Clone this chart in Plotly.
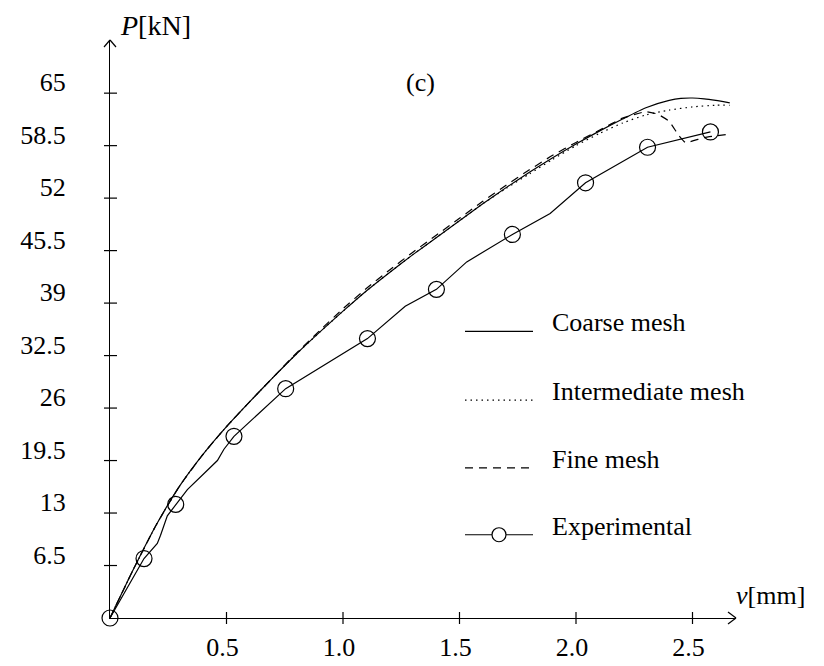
import plotly.graph_objects as go

# ---------------- data ----------------
coarse_v = [0, 0.10, 0.20, 0.30, 0.40, 0.50, 0.60, 0.70, 0.80, 0.90, 1.00, 1.10, 1.20, 1.30,
            1.40, 1.50, 1.60, 1.70, 1.80, 1.90, 2.00, 2.10, 2.20, 2.30, 2.40, 2.45, 2.50, 2.55,
            2.60, 2.66]
coarse_P = [0, 6.0, 11.6, 16.4, 20.3, 23.7, 26.8, 29.8, 32.7, 35.4, 38.0, 40.5, 42.8, 45.0,
            47.1, 49.2, 51.3, 53.3, 55.2, 57.0, 58.7, 60.3, 61.8, 63.2, 64.1, 64.35, 64.4, 64.3,
            64.1, 63.8]

inter_v = [0, 0.10, 0.20, 0.30, 0.40, 0.50, 0.60, 0.70, 0.80, 0.90, 1.00, 1.10, 1.20, 1.30,
           1.40, 1.50, 1.60, 1.70, 1.80, 1.90, 2.00, 2.10, 2.20, 2.30, 2.40, 2.50, 2.60, 2.66]
inter_P = [0, 6.0, 11.6, 16.4, 20.3, 23.7, 26.8, 29.8, 32.7, 35.4, 38.0, 40.5, 42.8, 45.0,
           47.1, 49.2, 51.3, 53.2, 55.0, 56.8, 58.5, 60.0, 61.3, 62.3, 62.9, 63.3, 63.5, 63.5]

fine_v = [0, 0.10, 0.20, 0.30, 0.40, 0.50, 0.60, 0.70, 0.80, 0.90, 1.00, 1.10, 1.20, 1.30,
          1.40, 1.50, 1.60, 1.70, 1.80, 1.90, 2.00, 2.10, 2.20, 2.30, 2.35, 2.40, 2.44, 2.47,
          2.55, 2.655]
fine_P = [0, 6.0, 11.6, 16.4, 20.3, 23.7, 26.8, 29.8, 32.8, 35.6, 38.3, 40.8, 43.1, 45.3,
          47.4, 49.5, 51.6, 53.6, 55.5, 57.3, 58.9, 60.4, 61.9, 62.7, 62.4, 61.5, 59.8, 58.9,
          59.5, 59.9]

exp_line_v = [0, 0.146, 0.203, 0.217, 0.246, 0.282, 0.332, 0.418, 0.461, 0.489, 0.532, 0.754,
              1.105, 1.267, 1.401, 1.531, 1.727, 1.889, 2.041, 2.307, 2.577]
exp_line_P = [0, 7.36, 9.24, 10.25, 12.66, 14.07, 15.9, 18.3, 19.5, 20.9, 22.5, 28.4,
              34.6, 38.6, 40.7, 44.1, 47.5, 50.1, 53.9, 58.3, 60.2]

exp_pts_v = [0, 0.146, 0.282, 0.532, 0.754, 1.105, 1.401, 1.727, 2.041, 2.307, 2.577]
exp_pts_P = [0, 7.36, 14.07, 22.5, 28.4, 34.6, 40.7, 47.5, 53.9, 58.3, 60.2]

x_ticks = [0.5, 1.0, 1.5, 2.0, 2.5]
x_tick_text = ["0.5", "1.0", "1.5", "2.0", "2.5"]
y_ticks = [6.5, 13, 19.5, 26, 32.5, 39, 45.5, 52, 58.5, 65]
y_tick_text = ["6.5", "13", "19.5", "26", "32.5", "39", "45.5", "52", "58.5", "65"]

legend_names = ["Coarse mesh", "Intermediate mesh", "Fine mesh", "Experimental"]

# ---------------- layout geometry ----------------
W, H = 824, 666
L, R, T, B = 102, 96, 32, 37
PW, PH = W - L - R, H - T - B
X_PER_UNIT = 233.0
Y_PER_UNIT = 8.34
FONT = "Liberation Serif, Times New Roman, serif"
FS = 26
LW = 1.2


def px(x):
    return (x - L) / PW


def py(y):
    return (H - B - y) / PH


fig = go.Figure()
fig.add_trace(go.Scatter(x=coarse_v, y=coarse_P, mode="lines", name=legend_names[0],
                         line=dict(color="black", width=LW, shape="spline", smoothing=0.6),
                         showlegend=False))
fig.add_trace(go.Scatter(x=inter_v, y=inter_P, mode="lines", name=legend_names[1],
                         line=dict(color="black", width=LW, dash="1.5px,4px", shape="spline",
                                   smoothing=0.6), showlegend=False))
fig.add_trace(go.Scatter(x=fine_v, y=fine_P, mode="lines", name=legend_names[2],
                         line=dict(color="black", width=LW, dash="8px,6px", shape="spline",
                                   smoothing=0.5), showlegend=False))
fig.add_trace(go.Scatter(x=exp_line_v, y=exp_line_P, mode="lines", name=legend_names[3],
                         line=dict(color="black", width=LW), showlegend=False, cliponaxis=False))
fig.add_trace(go.Scatter(x=exp_pts_v, y=exp_pts_P, mode="markers", name=legend_names[3],
                         marker=dict(symbol="circle-open", size=16, color="black",
                                     line=dict(width=LW, color="black")),
                         showlegend=False, cliponaxis=False))

shapes = []
# cross ticks
for v in x_ticks:
    shapes.append(dict(type="line", xref="x", x0=v, x1=v, yref="paper", ysizemode="pixel",
                       yanchor=0, y0=-6, y1=6, line=dict(color="black", width=LW)))
for p in y_ticks:
    shapes.append(dict(type="line", yref="y", y0=p, y1=p, xref="paper", xsizemode="pixel",
                       xanchor=0, x0=-6, x1=7, line=dict(color="black", width=LW)))
# arrow heads
for s in (1, -1):
    shapes.append(dict(type="line", xref="paper", xsizemode="pixel", xanchor=1, x0=-8, x1=0,
                       yref="paper", ysizemode="pixel", yanchor=0, y0=6 * s, y1=0,
                       line=dict(color="black", width=LW)))
    shapes.append(dict(type="line", xref="paper", xsizemode="pixel", xanchor=0, x0=6 * s, x1=0,
                       yref="paper", ysizemode="pixel", yanchor=1, y0=-7, y1=0,
                       line=dict(color="black", width=LW)))

# legend (manual)
leg_text_y = [324, 395, 465, 534]
leg_dash = ["solid", "1.5px,4px", "8px,6px", "solid"]
annotations = []
for i, name in enumerate(legend_names):
    ly = leg_text_y[i] + 9
    shapes.append(dict(type="line", xref="paper", yref="paper", x0=px(457), x1=px(525),
                       y0=py(ly), y1=py(ly), line=dict(color="black", width=LW, dash=leg_dash[i])))
    annotations.append(dict(text=name, xref="paper", yref="paper", x=px(542), y=py(leg_text_y[i]),
                            xanchor="left", yanchor="middle", showarrow=False,
                            font=dict(family=FONT, size=FS, color="black")))
    if name == "Experimental":
        shapes.append(dict(type="circle", xref="paper", yref="paper", xsizemode="pixel",
                           ysizemode="pixel", xanchor=px(491), yanchor=py(ly), x0=-7, x1=7,
                           y0=-7, y1=7, line=dict(color="black", width=LW),
                           fillcolor="white"))

annotations.append(dict(text="(c)", xref="paper", yref="paper", x=px(412), y=py(76),
                        xanchor="center", yanchor="middle", showarrow=False,
                        font=dict(family=FONT, size=FS, color="black")))
annotations.append(dict(text="<i>P</i>[kN]", xref="paper", yref="paper", x=px(110), y=py(17),
                        xanchor="left", yanchor="middle", showarrow=False,
                        font=dict(family=FONT, size=28, color="black")))
annotations.append(dict(text="<i>v</i>[mm]", xref="paper", yref="paper", x=px(726), y=py(606),
                        xanchor="left", yanchor="middle", showarrow=False,
                        font=dict(family=FONT, size=26, color="black")))

fig.update_layout(
    width=W, height=H,
    margin=dict(l=L, r=R, t=T, b=B, pad=0),
    paper_bgcolor="white", plot_bgcolor="white",
    showlegend=False,
    shapes=shapes,
    annotations=annotations,
    xaxis=dict(range=[0, PW / X_PER_UNIT], showgrid=False, zeroline=False, showline=True,
               linecolor="black", linewidth=LW, ticks="", tickvals=x_ticks, ticktext=x_tick_text,
               tickfont=dict(family=FONT, size=FS, color="black"), ticklabelstandoff=6,
               ticklabelshift=-4, fixedrange=True),
    yaxis=dict(range=[0, PH / Y_PER_UNIT], showgrid=False, zeroline=False, showline=True,
               linecolor="black", linewidth=LW, ticks="", tickvals=y_ticks, ticktext=y_tick_text,
               tickfont=dict(family=FONT, size=FS, color="black"), ticklabelstandoff=38,
               ticklabelshift=-11, fixedrange=True),
)

fig.write_html("out.html")
